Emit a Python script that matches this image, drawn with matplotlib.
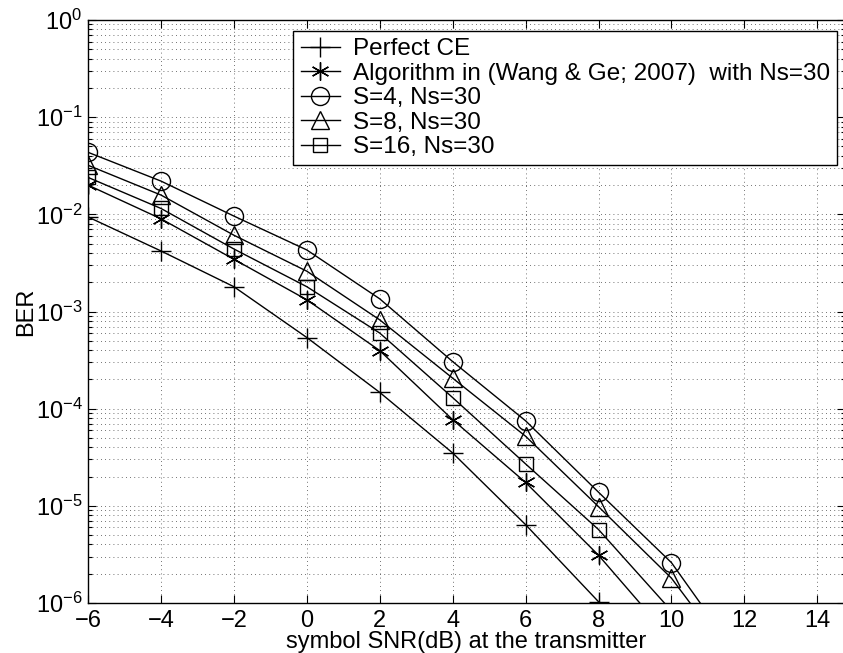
import matplotlib
matplotlib.use("Agg")
import matplotlib.pyplot as plt
from matplotlib.ticker import LogLocator, FixedLocator, NullFormatter

plt.rcParams['font.family'] = ['Liberation Sans', 'DejaVu Sans']
plt.rcParams['mathtext.fontset'] = 'custom'
plt.rcParams['mathtext.rm'] = 'Liberation Sans'
plt.rcParams['mathtext.it'] = 'Liberation Sans:italic'

snr = [-6, -4, -2, 0, 2, 4, 6, 8, 10, 12]

perfect_ce = [9.4e-3, 4.2e-3, 1.8e-3, 5.4e-4, 1.47e-4, 3.5e-5, 6.4e-6, 1.03e-6]
wang_ge = [2.0e-2, 9.0e-3, 3.45e-3, 1.32e-3, 3.96e-4, 7.7e-5, 1.74e-5, 3.1e-6, 4.2e-7]
s4 = [4.35e-2, 2.2e-2, 9.6e-3, 4.3e-3, 1.35e-3, 3.05e-4, 7.5e-5, 1.38e-5, 2.6e-6, 2.3e-7]
s8 = [3.2e-2, 1.58e-2, 6.1e-3, 2.6e-3, 8.2e-4, 2.06e-4, 5.2e-5, 9.8e-6, 1.8e-6, 1.8e-7]
s16 = [2.4e-2, 1.15e-2, 4.4e-3, 1.8e-3, 6.0e-4, 1.3e-4, 2.7e-5, 5.7e-6, 8.3e-7]

labels = ['Perfect CE',
          'Algorithm in (Wang & Ge; 2007)  with Ns=30',
          'S=4, Ns=30',
          'S=8, Ns=30',
          'S=16, Ns=30']

xticks = [-6, -4, -2, 0, 2, 4, 6, 8, 10, 12, 14]

fig = plt.figure(figsize=(8.43, 6.53), dpi=100)
ax = fig.add_axes([88/843, 50/653, 1 - 88/843 + 0.002, 583/653])

kw = dict(color='black', linewidth=1.0, markerfacecolor='none',
          markeredgecolor='black', markeredgewidth=1.0)
ax.semilogy(snr[:len(perfect_ce)], perfect_ce, marker='+', markersize=14, label=labels[0], **kw)
ax.semilogy(snr[:len(wang_ge)], wang_ge, marker=(6, 2, 0), markersize=13, label=labels[1], **kw)
ax.semilogy(snr[:len(s4)], s4, marker='o', markersize=13, label=labels[2], **kw)
ax.semilogy(snr[:len(s8)], s8, marker='^', markersize=13, label=labels[3], **kw)
ax.semilogy(snr[:len(s16)], s16, marker='s', markersize=10.5, label=labels[4], **kw)

ax.set_xlim(-6, 14.75)
ax.set_ylim(1e-6, 1)
ax.xaxis.set_major_locator(FixedLocator(xticks))
ax.yaxis.set_major_locator(LogLocator(base=10, numticks=10))
ax.yaxis.set_minor_locator(LogLocator(base=10, subs=range(2, 10), numticks=20))
ax.yaxis.set_minor_formatter(NullFormatter())

gridkw = dict(color='#444444', linestyle=(0, (1, 4)), linewidth=0.6)
ax.grid(True, which='major', axis='both', **gridkw)
ax.grid(True, which='minor', axis='y', **gridkw)

ax.tick_params(which='both', direction='in', top=True, right=True, labelsize=17, width=0.8)
ax.tick_params(axis='x', which='major', pad=5)
ax.tick_params(axis='y', which='major', pad=4)
ax.tick_params(which='major', length=6)
ax.tick_params(which='minor', length=3)
for s in ax.spines.values():
    s.set_linewidth(1.0)

ax.set_xlabel('symbol SNR(dB) at the transmitter', fontsize=17, labelpad=-1)
ax.set_ylabel('BER', fontsize=17, labelpad=-1)

leg = ax.legend(loc='upper left', bbox_to_anchor=(205/755, 572/583), borderaxespad=0,
                fontsize=17.5, fancybox=False, edgecolor='black', framealpha=1,
                handlelength=1.6, labelspacing=0.1, borderpad=0.3, handletextpad=0.55)
leg.get_frame().set_linewidth(1.0)

fig.savefig('out.png', dpi=100)
